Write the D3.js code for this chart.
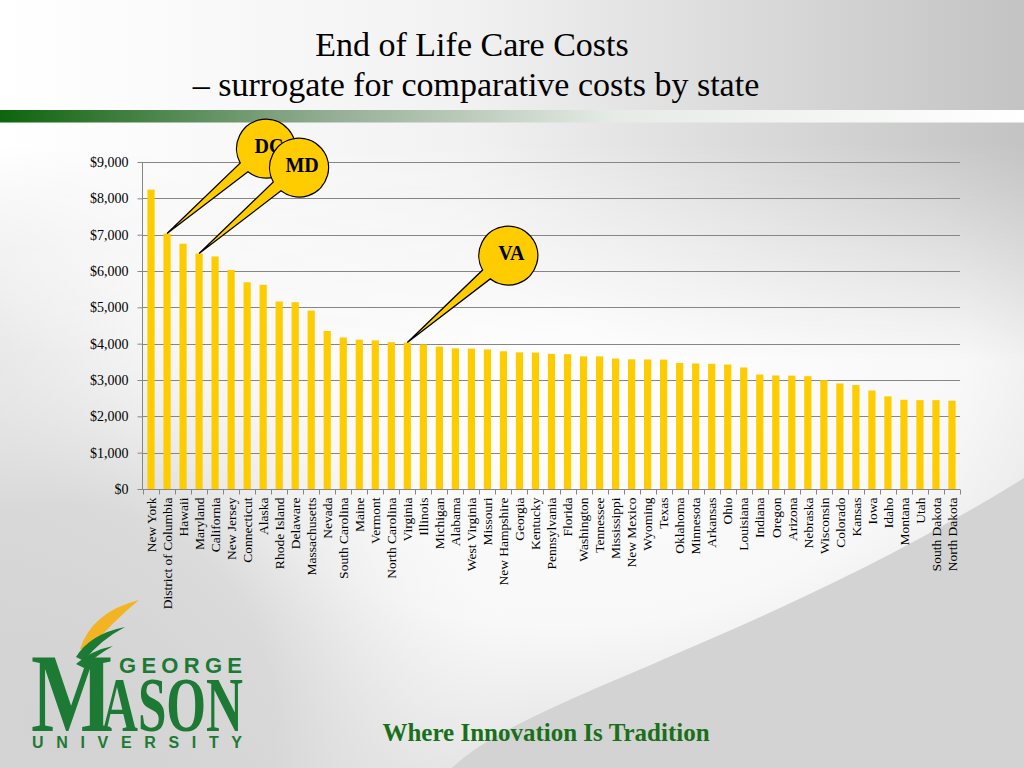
<!DOCTYPE html>
<html>
<head>
<meta charset="utf-8">
<script src="https://cdn.jsdelivr.net/npm/d3@7"></script>
<style>
  html, body { margin: 0; padding: 0; background: #ffffff; }
  svg { display: block; }
</style>
</head>
<body>
<svg id="chart" width="1024" height="768"></svg>
<script>
// ---- data ----
const states = ["New York", "District of Columbia", "Hawaii", "Maryland", "California", "New Jersey",
  "Connecticut", "Alaska", "Rhode Island", "Delaware", "Massachusetts", "Nevada", "South Carolina",
  "Maine", "Vermont", "North Carolina", "Virginia", "Illinois", "Michigan", "Alabama", "West Virginia",
  "Missouri", "New Hampshire", "Georgia", "Kentucky", "Pennsylvania", "Florida", "Washington",
  "Tennessee", "Mississippi", "New Mexico", "Wyoming", "Texas", "Oklahoma", "Minnesota", "Arkansas",
  "Ohio", "Louisiana", "Indiana", "Oregon", "Arizona", "Nebraska", "Wisconsin", "Colorado", "Kansas",
  "Iowa", "Idaho", "Montana", "Utah", "South Dakota", "North Dakota"];
const costs = [8240, 7030, 6750, 6480, 6400, 6030, 5690, 5620, 5160, 5140, 4910, 4350, 4170,
  4110, 4090, 4040, 4030, 3980, 3920, 3870, 3865, 3840, 3790, 3760, 3755, 3720, 3710, 3650,
  3650, 3590, 3570, 3565, 3560, 3470, 3455, 3445, 3425, 3345, 3150, 3125, 3120, 3105, 2995, 2905, 2860,
  2710, 2550, 2455, 2445, 2445, 2430];
const yTicks = [0, 1000, 2000, 3000, 4000, 5000, 6000, 7000, 8000, 9000];
const calloutStates = ["District of Columbia", "Maryland", "Virginia"];
const calloutLabels = ["DC", "MD", "VA"];
const titleLines = ["End of Life Care Costs", "\u2013 surrogate for comparative costs by state"];
const tagline = "Where Innovation Is Tradition";

// ---- layout / style ----
const W = 1024, H = 768;
const svg = d3.select("#chart");
const defs = svg.append("defs");
const serif = "'Liberation Serif', 'Times New Roman', serif";
const sans = "'Liberation Sans', Arial, sans-serif";
const barColor = "#FFCC00";
const gridColor = "#868686";

// ---- background ----
const bgRad = defs.append("radialGradient").attr("id", "bgRad")
  .attr("cx", 0.55).attr("cy", 0.42).attr("r", 0.72);
bgRad.append("stop").attr("offset", 0).attr("stop-color", "#ffffff");
bgRad.append("stop").attr("offset", 0.55).attr("stop-color", "#f8f8f8");
bgRad.append("stop").attr("offset", 1).attr("stop-color", "#d2d2d2");
svg.append("rect").attr("width", W).attr("height", H).attr("fill", "url(#bgRad)");

const topGrad = defs.append("linearGradient").attr("id", "topGrad")
  .attr("x1", 0).attr("x2", 1).attr("y1", 0).attr("y2", 0);
topGrad.append("stop").attr("offset", 0).attr("stop-color", "#ffffff");
topGrad.append("stop").attr("offset", 0.45).attr("stop-color", "#f2f2f2");
topGrad.append("stop").attr("offset", 1).attr("stop-color", "#c3c3c3");
const fadeGrad = defs.append("linearGradient").attr("id", "fadeGrad")
  .attr("x1", 0).attr("x2", 0).attr("y1", 0).attr("y2", 1);
fadeGrad.append("stop").attr("offset", 0).attr("stop-color", "#fff").attr("stop-opacity", 1);
fadeGrad.append("stop").attr("offset", 0.4).attr("stop-color", "#fff").attr("stop-opacity", 1);
fadeGrad.append("stop").attr("offset", 1).attr("stop-color", "#fff").attr("stop-opacity", 0);
const mask = defs.append("mask").attr("id", "topMask");
mask.append("rect").attr("x", 0).attr("y", 0).attr("width", W).attr("height", 360).attr("fill", "url(#fadeGrad)");
svg.append("rect").attr("x", 0).attr("y", 0).attr("width", W).attr("height", 360)
  .attr("fill", "url(#topGrad)").attr("mask", "url(#topMask)");

const blGrad = defs.append("radialGradient").attr("id", "blGrad")
  .attr("gradientUnits", "userSpaceOnUse").attr("cx", 60).attr("cy", 720).attr("r", 480);
blGrad.append("stop").attr("offset", 0).attr("stop-color", "#d3d3d3").attr("stop-opacity", 1);
blGrad.append("stop").attr("offset", 0.45).attr("stop-color", "#d6d6d6").attr("stop-opacity", 0.8);
blGrad.append("stop").attr("offset", 1).attr("stop-color", "#ffffff").attr("stop-opacity", 0);
svg.append("rect").attr("width", W).attr("height", H).attr("fill", "url(#blGrad)");

// bottom-right gray swoop
svg.append("path")
  .attr("d", "M452,768 C520,700 760,642 1024,478 L1024,768 Z")
  .attr("fill", "#d3d3d3");

// green header bar
const barGrad = defs.append("linearGradient").attr("id", "hdrGrad")
  .attr("x1", 0).attr("x2", 1).attr("y1", 0).attr("y2", 0);
barGrad.append("stop").attr("offset", 0).attr("stop-color", "#0d650d");
barGrad.append("stop").attr("offset", 0.12).attr("stop-color", "#3f7e3f");
barGrad.append("stop").attr("offset", 0.32).attr("stop-color", "#93ad93");
barGrad.append("stop").attr("offset", 0.6).attr("stop-color", "#e6ebe6");
barGrad.append("stop").attr("offset", 1).attr("stop-color", "#ffffff");
svg.append("rect").attr("x", 0).attr("y", 110).attr("width", W).attr("height", 12.5)
  .attr("fill", "url(#hdrGrad)");

// ---- titles ----
svg.append("text").attr("x", 472).attr("y", 56).attr("text-anchor", "middle")
  .style("font-family", serif).style("font-size", "34px").attr("fill", "#000")
  .text(titleLines[0]);
svg.append("text").attr("x", 476).attr("y", 96).attr("text-anchor", "middle")
  .style("font-family", serif).style("font-size", "34px").attr("fill", "#000")
  .text(titleLines[1]);

// ---- chart ----
const x = d3.scaleBand().domain(states).range([143, 960]).paddingInner(0.55).paddingOuter(0.275);
const y = d3.scaleLinear().domain([0, 9000]).range([489, 162]);

// gridlines
svg.append("g").selectAll("line").data(yTicks.filter(d => d > 0)).join("line")
  .attr("x1", 142).attr("x2", 960)
  .attr("y1", d => Math.round(y(d)) + 0.5).attr("y2", d => Math.round(y(d)) + 0.5)
  .attr("stroke", gridColor).attr("stroke-width", 1);

// y axis
const yAxis = svg.append("g").attr("transform", "translate(142.5,0)")
  .call(d3.axisLeft(y).tickValues(yTicks).tickFormat(d3.format("$,")).tickSize(5).tickPadding(9));
yAxis.select(".domain").attr("stroke", gridColor).attr("d", `M0,${y(9000)}V${y(0)}`);
yAxis.selectAll(".tick line").attr("stroke", gridColor);
yAxis.selectAll(".tick text").style("font-family", serif).style("font-size", "14px").attr("fill", "#000");

// bars
svg.append("g").selectAll("rect").data(states).join("rect")
  .attr("x", d => x(d))
  .attr("width", x.bandwidth())
  .attr("y", (d, i) => y(costs[i]))
  .attr("height", (d, i) => y(0) - y(costs[i]))
  .attr("fill", barColor);

// x axis
const xAxis = svg.append("g").attr("transform", `translate(0,${Math.round(y(0)) + 0.5})`)
  .call(d3.axisBottom(x).tickSize(0).tickPadding(0));
xAxis.select(".domain").attr("stroke", gridColor).attr("d", `M142,0H960`);
xAxis.selectAll(".tick text")
  .attr("transform", "rotate(-90)")
  .attr("x", -8).attr("y", 0).attr("dy", "0.35em")
  .style("text-anchor", "end")
  .style("font-family", serif).style("font-size", "13.5px").attr("fill", "#000");
// category boundary tick marks
const bounds = states.map((d, i) => x(d) - x.step() * x.paddingInner() / 2).concat([960]);
xAxis.append("g").selectAll("line").data(bounds).join("line")
  .attr("x1", d => Math.round(d) + 0.5).attr("x2", d => Math.round(d) + 0.5)
  .attr("y1", 0).attr("y2", 5).attr("stroke", gridColor);

// ---- callouts ----
const calloutOffsets = [[99, -85], [100, -86], [101, -87]];
const r = 29.5;
function calloutPath(tx, ty, cx, cy, rr, delta) {
  const th = Math.atan2(ty - cy, tx - cx);
  const a1 = th - delta, a2 = th + delta;
  const p1 = [cx + rr * Math.cos(a1), cy + rr * Math.sin(a1)];
  const p2 = [cx + rr * Math.cos(a2), cy + rr * Math.sin(a2)];
  return `M${tx},${ty}L${p1[0]},${p1[1]}A${rr},${rr} 0 1 0 ${p2[0]},${p2[1]}Z`;
}
const cg = svg.append("g");
calloutStates.forEach((s, i) => {
  const idx = states.indexOf(s);
  const tx = x(s) + x.bandwidth() / 2;
  const ty = y(costs[idx]);
  const cx = tx + calloutOffsets[i][0], cy = ty + calloutOffsets[i][1];
  const g = cg.append("g");
  g.append("path").attr("d", calloutPath(tx, ty, cx, cy, r, 0.2))
    .attr("fill", barColor).attr("stroke", "#000").attr("stroke-width", 1.3)
    .attr("stroke-linejoin", "miter");
  g.append("text").attr("x", cx + 3).attr("y", cy + 4).attr("text-anchor", "middle")
    .style("font-family", serif).style("font-size", "20px").style("font-weight", "bold")
    .attr("fill", "#000").text(calloutLabels[i]);
});

// ---- logo ----
const gmuGreen = "#1c7a34";
const logo = svg.append("g");
logo.append("path").attr("d", "M80,649 Q92,612 139,600 Q112,622 88,651 Z").attr("fill", "#f2b423");
logo.append("path").attr("d", "M76,657 Q90,634 125,627 Q100,640 84,661 Z").attr("fill", gmuGreen);
logo.append("path").attr("d", "M76,664 Q92,650 113,646 Q95,656 84,668 Z").attr("fill", gmuGreen);
logo.append("text").attr("x", 119).attr("y", 673)
  .attr("textLength", 123).attr("lengthAdjust", "spacing")
  .style("font-family", sans).style("font-weight", "bold").style("font-size", "22px")
  .attr("fill", gmuGreen).text("GEORGE");
logo.append("text").attr("x", 31).attr("y", 731)
  .attr("textLength", 82).attr("lengthAdjust", "spacingAndGlyphs")
  .style("font-family", serif).style("font-weight", "bold").style("font-size", "112px")
  .attr("fill", gmuGreen).text("M");
logo.append("text").attr("x", 101).attr("y", 731)
  .attr("textLength", 142).attr("lengthAdjust", "spacingAndGlyphs")
  .style("font-family", serif).style("font-weight", "bold").style("font-size", "78px")
  .attr("fill", gmuGreen).text("ASON");
logo.append("text").attr("x", 32).attr("y", 748)
  .attr("textLength", 210).attr("lengthAdjust", "spacing")
  .style("font-family", sans).style("font-weight", "bold").style("font-size", "16px")
  .attr("fill", gmuGreen).text("UNIVERSITY");

// ---- tagline ----
svg.append("text").attr("x", 546).attr("y", 741).attr("text-anchor", "middle")
  .style("font-family", serif).style("font-weight", "bold").style("font-size", "25px")
  .attr("fill", "#1a6f1a").text(tagline);
</script>
</body>
</html>
